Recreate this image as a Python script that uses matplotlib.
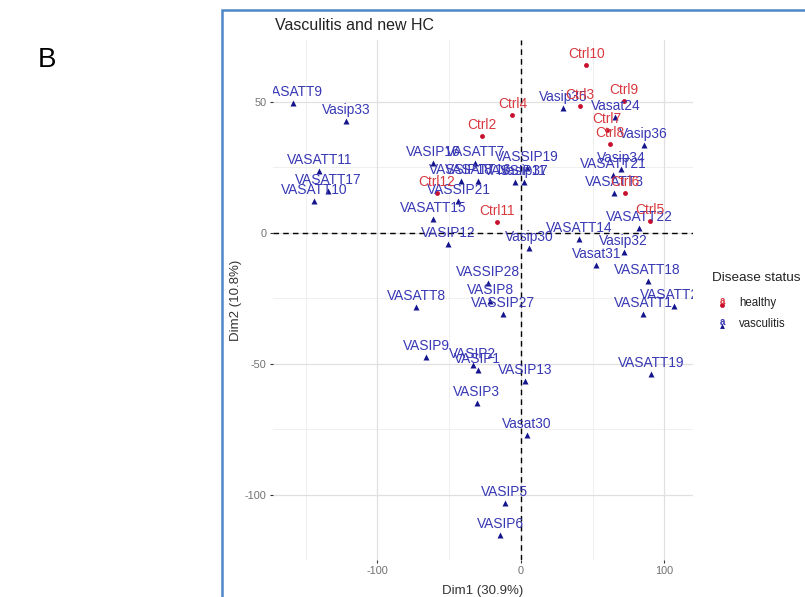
import matplotlib
matplotlib.use("Agg")
import matplotlib.pyplot as plt
from matplotlib.patches import Rectangle
from matplotlib.lines import Line2D
from matplotlib.transforms import offset_copy

plt.rcParams["font.family"] = ["Liberation Sans", "DejaVu Sans"]
plt.rcParams["axes.unicode_minus"] = False

# PCA individuals (Dim1, Dim2)
healthy_names = ["Ctrl10", "Ctrl9", "Ctrl3", "Ctrl4", "Ctrl7", "Ctrl2",
                 "Ctrl8", "Ctrl12", "Ctrl6", "Ctrl5", "Ctrl11"]
healthy_x = [45.6, 71.6, 41.4, -5.9, 60.0, -27.3, 61.8, -58.6, 72.3, 90.2, -16.7]
healthy_y = [64.0, 50.3, 48.4, 44.7, 39.2, 36.8, 33.8, 15.1, 15.3, 4.5, 3.9]

vasc_names = ["VASATT9", "Vasip33", "VASATT11", "VASATT17", "VASATT10",
              "VASIP16", "VASATT7", "VASSIP19", "VASSIP18", "VASATT16",
              "VASSIP11", "Vasip37", "VASSIP21", "VASATT15", "VASIP12",
              "Vasip30", "VASSIP28", "VASIP8", "VASSIP27", "VASATT8",
              "VASIP9", "VASIP2", "VASIP1", "VASIP13", "VASIP3", "Vasat30",
              "VASIP5", "VASIP6", "Vasip35", "Vasat24", "Vasip36", "Vasip34",
              "VASATT21", "VASATT3", "VASATT22", "VASATT14", "Vasip32",
              "Vasat31", "VASATT18", "VASATT1", "VASATT20", "VASATT19"]
vasc_x = [-158.6, -121.9, -140.5, -134.6, -144.2, -61.0, -31.9, 4.4, -41.6,
          -30.0, -4.0, 2.3, -43.5, -61.4, -50.9, 6.0, -22.6, -21.4, -12.6,
          -73.0, -66.1, -33.5, -30.1, 3.0, -30.7, 4.2, -11.4, -14.4, 29.3,
          65.8, 85.5, 69.8, 64.2, 65.1, 82.5, 40.7, 71.6, 52.5, 88.3, 85.1,
          106.5, 90.7]
vasc_y = [49.6, 42.6, 23.6, 15.9, 12.1, 26.5, 26.5, 24.7, 19.8, 19.8, 19.5,
          19.5, 11.9, 5.1, -4.4, -5.9, -19.3, -26.0, -31.1, -28.2, -47.6,
          -50.4, -52.5, -56.5, -65.0, -77.1, -103.2, -115.5, 47.5, 44.0,
          33.5, 24.2, 22.0, 15.3, 1.7, -2.3, -7.4, -12.5, -18.4, -31.1,
          -27.9, -53.9]

RED_PT, RED_TXT = "#c8102e", "#d9383f"
BLUE_PT, BLUE_TXT = "#14148c", "#3838b4"

fig = plt.figure(figsize=(8.05, 5.97), dpi=100)
ax = fig.add_axes([273 / 805, 37 / 597, 420 / 805, 520 / 597])

ax.set_xlim(-172.8, 120.0)
ax.set_ylim(-124.9, 73.5)

# ggplot-like minimal grid
for v in (-150, -50, 50):
    ax.axvline(v, color="#ececec", lw=0.6, zorder=0)
for v in (-75, -25, 25):
    ax.axhline(v, color="#ececec", lw=0.6, zorder=0)
for v in (-100, 0, 100):
    ax.axvline(v, color="#e0e0e0", lw=0.9, zorder=0)
for v in (-100, -50, 0, 50):
    ax.axhline(v, color="#e0e0e0", lw=0.9, zorder=0)

ax.axvline(0, color="black", lw=1.0, ls=(0, (4, 3)), zorder=1)
ax.axhline(0, color="black", lw=1.0, ls=(0, (4, 3)), zorder=1)

ax.plot(healthy_x, healthy_y, "o", color=RED_PT, ms=3.5, mec="none", zorder=3)
ax.plot(vasc_x, vasc_y, "^", color=BLUE_PT, ms=4, mec="none", zorder=3)

lab_tr = offset_copy(ax.transData, fig=fig, x=0, y=11, units="dots")
for names, xs, ys, col in ((vasc_names, vasc_x, vasc_y, BLUE_TXT),
                           (healthy_names, healthy_x, healthy_y, RED_TXT)):
    for n, x, y in zip(names, xs, ys):
        t = ax.text(x, y, n, transform=lab_tr, ha="center", va="center",
                    fontsize=9.9, color=col, zorder=4, clip_on=True)
        t.set_clip_path(ax.patch)

for s in ax.spines.values():
    s.set_visible(False)
ax.set_xticks([-100, 0, 100])
ax.set_yticks([-100, -50, 0, 50])
ax.tick_params(length=2.5, width=0.8, color="#333333", labelcolor="#707070",
               labelsize=7.8, pad=2)
ax.set_xlabel("Dim1 (30.9%)", fontsize=9.5, color="#333333", labelpad=6)
ax.set_ylabel("Dim2 (10.8%)", fontsize=9.5, color="#333333", labelpad=2)
ax.set_title("Vasculitis and new HC", loc="left", fontsize=11.5,
             color="#222222", x=0.005, pad=7)

# legend drawn by hand
fig.text(712 / 805, 1 - 278 / 597, "Disease status", fontsize=9.7,
         color="#222222", va="center", ha="left")
for yy, lab, pc, tc, mk in ((303, "healthy", RED_PT, RED_TXT, "o"),
                            (324, "vasculitis", BLUE_PT, BLUE_TXT, "^")):
    fy = 1 - yy / 597
    fig.text(722 / 805, fy + 0.004, "a", fontsize=7, color=tc,
             ha="center", va="center", fontweight="bold")
    fig.add_artist(Line2D([722 / 805], [fy - 0.004], marker=mk, color=pc,
                          ms=3.5, mec="none", transform=fig.transFigure))
    fig.text(739 / 805, fy, lab, fontsize=8.3, color="#222222",
             va="center", ha="left")

# panel tag and picture border
fig.text(38 / 805, 1 - 60 / 597, "B", fontsize=20, color="black",
         va="center", ha="left")
fig.add_artist(Rectangle((222 / 805, -0.05), 0.8, 1 - 10 / 597 + 0.05,
                         transform=fig.transFigure, fill=False,
                         edgecolor="#4f86c6", lw=1.8))

fig.savefig("out.png", dpi=100)
